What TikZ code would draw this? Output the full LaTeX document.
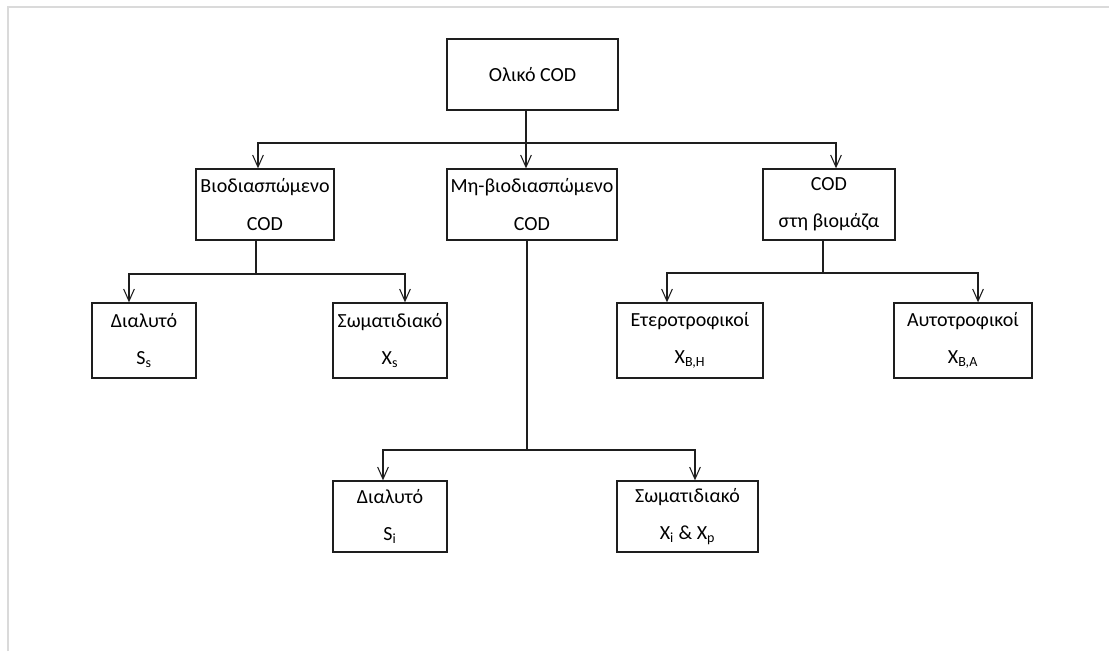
\documentclass[tikz,border=0pt]{standalone}
\usepackage{fontspec}
\setmainfont{Carlito}
\usepackage{xcolor}
\usepackage{tikz}
\usetikzlibrary{arrows.meta,positioning}
\definecolor{codline}{RGB}{30,30,30}
\definecolor{codframe}{RGB}{218,218,218}

\begin{document}
\begin{tikzpicture}[
  x=0.75pt,y=-0.75pt,
  box/.style={draw=codline,line width=1pt,minimum height=53.25pt,inner xsep=1pt,
              font=\fontsize{15}{28}\selectfont,align=center},
  link/.style={line width=0.8pt,color=codline},
  arr/.style={link,-{Straight Barb[length=9pt,width=8pt]}}
]
\useasboundingbox (0,0) rectangle (1109,651);
\draw[codframe,line width=1.5pt] (8,651) -- (8,7) -- (1109,7);

\node[box,minimum width=128.25pt] (top) at (532.5,74.5) {Ολικό COD};

\node[box,minimum width=103.5pt] (b1) at (265,204.5) {Βιοδιασπώμενο\\COD};
\node[box,minimum width=127.5pt] (b2) at (532,204.5) {Μη-βιοδιασπώμενο\\COD};
\node[box,minimum width=99pt]    (b3) at (829,204.5) {COD\\στη βιομάζα};

\node[box,minimum width=78pt,minimum height=56.25pt]    (c1) at (144,340.5) {Διαλυτό\\S\textsubscript{s}};
\node[box,minimum width=85.5pt,minimum height=56.25pt]  (c2) at (390,340.5) {Σωματιδιακό\\X\textsubscript{s}};
\node[box,minimum width=109.5pt,minimum height=56.25pt] (c3) at (690,340.5) {Ετεροτροφικοί\\X\textsubscript{B,H}};
\node[box,minimum width=103.5pt,minimum height=56.25pt] (c4) at (963,340.5) {Αυτοτροφικοί\\X\textsubscript{B,A}};

\node[box,minimum width=85.5pt]   (d1) at (390,516.5)   {Διαλυτό\\S\textsubscript{i}};
\node[box,minimum width=105.75pt] (d2) at (687.5,516.5) {Σωματιδιακό\\X\textsubscript{i} \& X\textsubscript{p}};

% top level
\coordinate (j0) at (526,143);
\draw[link] (j0 |- top.south) -- (j0);
\draw[arr] (j0) -| ([xshift=-5.25pt]b1.north);
\draw[arr] (j0) -- (j0 |- b2.north);
\draw[arr] (j0) -| ([xshift=5.25pt]b3.north);

% biodegradable
\coordinate (j1) at (256,274);
\draw[link] (j1 |- b1.south) -- (j1);
\draw[arr] (j1) -| ([xshift=-11.25pt]c1.north);
\draw[arr] (j1) -| ([xshift=11.25pt]c2.north);

% biomass
\coordinate (j3) at (823,273);
\draw[link] (j3 |- b3.south) -- (j3);
\draw[arr] (j3) -| ([xshift=-17.25pt]c3.north);
\draw[arr] (j3) -| ([xshift=11.25pt]c4.north);

% non-biodegradable
\coordinate (j2) at (527,450);
\draw[link] (j2 |- b2.south) -- (j2);
\draw[arr] (j2) -| ([xshift=-5.25pt]d1.north);
\draw[arr] (j2) -| ([xshift=5.625pt]d2.north);
\end{tikzpicture}
\end{document}
